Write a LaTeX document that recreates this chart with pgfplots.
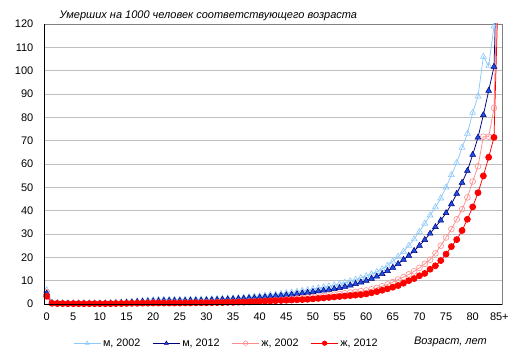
\documentclass[border=0pt]{standalone}
\usepackage{pgfplots}
\pgfplotsset{compat=1.18}
\usepackage{pgfplotstable}
\usepackage{fontspec}
\setmainfont{Liberation Sans}
\definecolor{mA}{RGB}{140,200,250}
\definecolor{mBline}{RGB}{0,0,128}
\definecolor{mBfill}{RGB}{30,80,220}
\definecolor{fA}{RGB}{255,140,140}
\definecolor{fB}{RGB}{255,0,0}
\pgfplotstableread{
age m02 m12 f02 f12
0 6.0 4.6 5.0 3.3
1 0.6 0.4 0.4 0.3
2 0.4 0.3 0.3 0.2
3 0.3 0.2 0.2 0.2
4 0.3 0.2 0.2 0.15
5 0.3 0.2 0.2 0.15
6 0.3 0.2 0.2 0.15
7 0.3 0.2 0.2 0.15
8 0.3 0.2 0.2 0.15
9 0.3 0.2 0.2 0.15
10 0.3 0.2 0.2 0.15
11 0.3 0.2 0.2 0.15
12 0.4 0.3 0.2 0.15
13 0.5 0.4 0.3 0.2
14 0.6 0.5 0.3 0.2
15 0.8 0.6 0.4 0.25
16 1.0 0.7 0.4 0.3
17 1.2 0.9 0.5 0.3
18 1.4 1.0 0.5 0.35
19 1.6 1.1 0.6 0.35
20 1.7 1.2 0.6 0.4
21 1.8 1.3 0.6 0.4
22 1.9 1.4 0.6 0.4
23 1.9 1.4 0.6 0.4
24 1.9 1.4 0.6 0.4
25 1.9 1.4 0.6 0.4
26 1.9 1.4 0.6 0.45
27 1.9 1.5 0.6 0.45
28 2.0 1.5 0.6 0.5
29 2.0 1.5 0.7 0.5
30 2.0 1.6 0.7 0.5
31 2.1 1.7 0.7 0.55
32 2.2 1.8 0.8 0.6
33 2.3 1.9 0.8 0.6
34 2.4 2.0 0.9 0.7
35 2.5 2.1 0.9 0.7
36 2.6 2.2 1.0 0.8
37 2.8 2.3 1.0 0.8
38 3.0 2.5 1.1 0.9
39 3.2 2.6 1.2 1.0
40 3.4 2.8 1.3 1.1
41 3.6 3.0 1.4 1.2
42 3.9 3.2 1.5 1.3
43 4.1 3.4 1.7 1.4
44 4.4 3.6 1.8 1.5
45 4.7 3.8 2.0 1.6
46 5.0 4.0 2.2 1.7
47 5.3 4.3 2.4 1.8
48 5.7 4.6 2.6 1.9
49 6.0 4.9 2.8 2.0
50 6.4 5.2 3.0 2.2
51 6.8 5.5 3.2 2.4
52 7.2 5.8 3.4 2.6
53 7.6 6.1 3.7 2.8
54 8.1 6.5 4.0 3.0
55 8.6 6.9 4.3 3.2
56 9.2 7.4 4.6 3.4
57 9.8 8.0 4.9 3.6
58 10.5 8.6 5.2 3.8
59 11.2 9.3 5.5 4.0
60 12.0 10.0 5.8 4.3
61 12.8 10.9 6.3 4.8
62 13.8 11.8 6.9 5.3
63 15.0 12.9 7.6 5.9
64 16.5 14.2 8.4 6.5
65 18.3 15.6 9.4 7.2
66 20.3 17.2 10.5 7.9
67 22.5 19.0 11.5 8.9
68 25.0 20.7 12.7 10.0
69 27.8 22.8 14.0 10.9
70 31.0 25.0 15.5 12.1
71 34.5 27.5 17.2 13.1
72 38.0 30.2 19.0 14.9
73 41.5 33.0 21.7 16.4
74 45.3 35.8 25.0 18.6
75 50.0 39.0 28.5 21.4
76 55.3 42.8 32.1 24.6
77 60.5 47.3 36.3 27.6
78 67.0 52.0 40.6 31.5
79 73.0 57.1 45.7 36.3
80 82.0 64.0 52.5 41.6
81 89.0 71.4 59.0 47.7
82 106.0 81.0 71.7 54.9
83 102.0 91.4 71.7 62.9
84 119.0 101.7 84.0 71.4
85 250 180 170 150
}\data
\begin{document}
\begin{tikzpicture}
\begin{axis}[
  width=458pt, height=280pt, scale only axis,
  xmin=-0.5, xmax=85.5, ymin=0, ymax=120,
  xtick={0,5,10,15,20,25,30,35,40,45,50,55,60,65,70,75,80,85},
  xticklabels={0,5,10,15,20,25,30,35,40,45,50,55,60,65,70,75,80,85+},
  ytick={0,10,20,30,40,50,60,70,80,90,100,110,120},
  ymajorgrids, major grid style={draw=black!25, line width=0.8pt},
  axis line style={draw=black!50, line width=0.8pt},
  tick style={draw=none},
  ticklabel style={font=\fontsize{11}{13}\selectfont},
  /pgf/number format/assume math mode=true,
  yticklabel style={inner xsep=0pt, xshift=-10.5pt},
  xticklabel style={inner ysep=0pt, yshift=-9pt},
  legend columns=4,
  legend style={draw=none, fill=none, at={(0.057,-0.14)}, anchor=west,
    font=\fontsize{10.8}{12}\selectfont,
    /tikz/every even column/.append style={column sep=10pt}},
  legend cell align=left,
  legend image code/.code={\draw[mark repeat=2,mark phase=2,#1,mark size=2.2pt] plot coordinates {(0pt,0pt) (13.5pt,0pt) (27pt,0pt)};},
]
\addplot[color=mA, line width=0.75pt, mark=triangle, mark size=3.4pt, mark options={solid, line width=0.6pt}] table[x=age,y=m02] {\data};
\addlegendentry{м, 2002}
\addplot[color=mBline, line width=0.75pt, mark=triangle*, mark size=3.4pt, mark options={solid, fill=mBfill, draw=mBline, line width=0.5pt}] table[x=age,y=m12] {\data};
\addlegendentry{м, 2012}
\addplot[color=fA, line width=0.75pt, mark=o, mark size=2.9pt, mark options={solid, line width=0.6pt}] table[x=age,y=f02] {\data};
\addlegendentry{ж, 2002}
\addplot[color=fB, line width=0.75pt, mark=*, mark size=3pt, mark options={solid, fill=fB, draw=fB}] table[x=age,y=f12] {\data};
\addlegendentry{ж, 2012}
\end{axis}
\draw[black, line width=0.9pt] (current axis.north west) -- (current axis.south west) -- (current axis.south east);
\node[anchor=base west, inner sep=0pt, font=\itshape\fontsize{11}{13}\selectfont] at ([xshift=15.3pt,yshift=285pt]current axis.south west) {Умерших на 1000 человек соответствующего возраста};
\node[anchor=base east, inner sep=0pt, font=\itshape\fontsize{11}{13}\selectfont] at ([xshift=443pt,yshift=-40pt]current axis.south west) {Возраст, лет};
\pgfresetboundingbox
\path ([xshift=-44pt,yshift=-55pt]current axis.south west) rectangle ++(517pt,359pt);
\end{tikzpicture}
\end{document}
